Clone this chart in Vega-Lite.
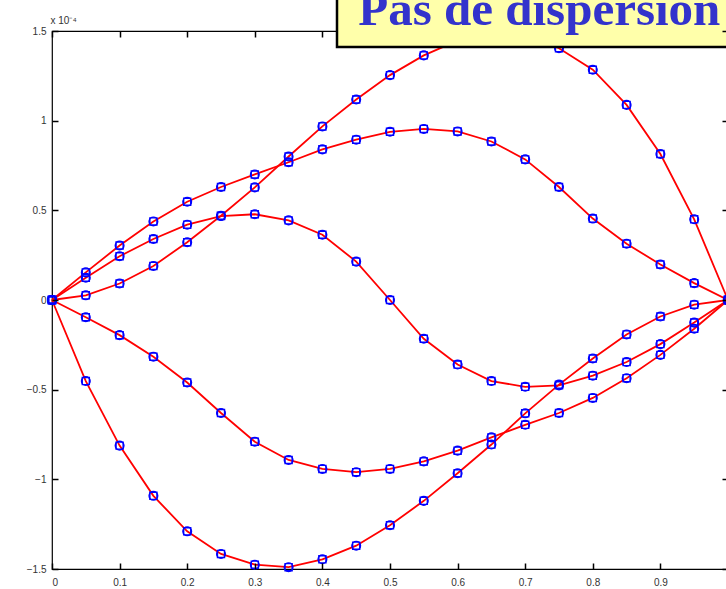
{
  "$schema": "https://vega.github.io/schema/vega-lite/v6.json",
  "width": 676,
  "height": 538,
  "autosize": {"type": "none"},
  "padding": {"left": 52, "top": 31, "right": 0, "bottom": 20},
  "background": "white",
  "config": {
    "view": {"stroke": "black", "strokeWidth": 1.2},
    "font": "Liberation Sans"
  },
  "datasets": {
    "curves": [
      {"curve": "C1", "x": 0, "y": 0}, {"curve": "C1", "x": 0.05, "y": -0.452}, {"curve": "C1", "x": 0.1, "y": -0.812}, {"curve": "C1", "x": 0.15, "y": -1.092}, {"curve": "C1", "x": 0.2, "y": -1.29}, {"curve": "C1", "x": 0.25, "y": -1.416}, {"curve": "C1", "x": 0.3, "y": -1.476}, {"curve": "C1", "x": 0.35, "y": -1.49}, {"curve": "C1", "x": 0.4, "y": -1.446}, {"curve": "C1", "x": 0.45, "y": -1.37}, {"curve": "C1", "x": 0.5, "y": -1.256}, {"curve": "C1", "x": 0.55, "y": -1.12}, {"curve": "C1", "x": 0.6, "y": -0.966}, {"curve": "C1", "x": 0.65, "y": -0.806}, {"curve": "C1", "x": 0.7, "y": -0.632}, {"curve": "C1", "x": 0.75, "y": -0.472}, {"curve": "C1", "x": 0.8, "y": -0.326}, {"curve": "C1", "x": 0.85, "y": -0.192}, {"curve": "C1", "x": 0.9, "y": -0.092}, {"curve": "C1", "x": 0.95, "y": -0.026}, {"curve": "C1", "x": 1, "y": 0},
      {"curve": "C2", "x": 0, "y": 0}, {"curve": "C2", "x": 0.05, "y": 0.026}, {"curve": "C2", "x": 0.1, "y": 0.092}, {"curve": "C2", "x": 0.15, "y": 0.19}, {"curve": "C2", "x": 0.2, "y": 0.322}, {"curve": "C2", "x": 0.25, "y": 0.47}, {"curve": "C2", "x": 0.3, "y": 0.628}, {"curve": "C2", "x": 0.35, "y": 0.8}, {"curve": "C2", "x": 0.4, "y": 0.968}, {"curve": "C2", "x": 0.45, "y": 1.118}, {"curve": "C2", "x": 0.5, "y": 1.254}, {"curve": "C2", "x": 0.55, "y": 1.364}, {"curve": "C2", "x": 0.6, "y": 1.446}, {"curve": "C2", "x": 0.65, "y": 1.49}, {"curve": "C2", "x": 0.7, "y": 1.476}, {"curve": "C2", "x": 0.75, "y": 1.404}, {"curve": "C2", "x": 0.8, "y": 1.284}, {"curve": "C2", "x": 0.85, "y": 1.088}, {"curve": "C2", "x": 0.9, "y": 0.814}, {"curve": "C2", "x": 0.95, "y": 0.45}, {"curve": "C2", "x": 1, "y": 0},
      {"curve": "C3", "x": 0, "y": 0}, {"curve": "C3", "x": 0.05, "y": 0.154}, {"curve": "C3", "x": 0.1, "y": 0.304}, {"curve": "C3", "x": 0.15, "y": 0.438}, {"curve": "C3", "x": 0.2, "y": 0.548}, {"curve": "C3", "x": 0.25, "y": 0.63}, {"curve": "C3", "x": 0.3, "y": 0.7}, {"curve": "C3", "x": 0.35, "y": 0.768}, {"curve": "C3", "x": 0.4, "y": 0.84}, {"curve": "C3", "x": 0.45, "y": 0.894}, {"curve": "C3", "x": 0.5, "y": 0.938}, {"curve": "C3", "x": 0.55, "y": 0.954}, {"curve": "C3", "x": 0.6, "y": 0.94}, {"curve": "C3", "x": 0.65, "y": 0.884}, {"curve": "C3", "x": 0.7, "y": 0.784}, {"curve": "C3", "x": 0.75, "y": 0.63}, {"curve": "C3", "x": 0.8, "y": 0.454}, {"curve": "C3", "x": 0.85, "y": 0.314}, {"curve": "C3", "x": 0.9, "y": 0.198}, {"curve": "C3", "x": 0.95, "y": 0.094}, {"curve": "C3", "x": 1, "y": 0},
      {"curve": "C4", "x": 0, "y": 0}, {"curve": "C4", "x": 0.05, "y": 0.124}, {"curve": "C4", "x": 0.1, "y": 0.244}, {"curve": "C4", "x": 0.15, "y": 0.34}, {"curve": "C4", "x": 0.2, "y": 0.42}, {"curve": "C4", "x": 0.25, "y": 0.468}, {"curve": "C4", "x": 0.3, "y": 0.478}, {"curve": "C4", "x": 0.35, "y": 0.444}, {"curve": "C4", "x": 0.4, "y": 0.364}, {"curve": "C4", "x": 0.45, "y": 0.214}, {"curve": "C4", "x": 0.5, "y": 0}, {"curve": "C4", "x": 0.55, "y": -0.216}, {"curve": "C4", "x": 0.6, "y": -0.36}, {"curve": "C4", "x": 0.65, "y": -0.452}, {"curve": "C4", "x": 0.7, "y": -0.484}, {"curve": "C4", "x": 0.75, "y": -0.476}, {"curve": "C4", "x": 0.8, "y": -0.422}, {"curve": "C4", "x": 0.85, "y": -0.346}, {"curve": "C4", "x": 0.9, "y": -0.246}, {"curve": "C4", "x": 0.95, "y": -0.126}, {"curve": "C4", "x": 1, "y": 0},
      {"curve": "C5", "x": 0, "y": 0}, {"curve": "C5", "x": 0.05, "y": -0.096}, {"curve": "C5", "x": 0.1, "y": -0.196}, {"curve": "C5", "x": 0.15, "y": -0.316}, {"curve": "C5", "x": 0.2, "y": -0.46}, {"curve": "C5", "x": 0.25, "y": -0.63}, {"curve": "C5", "x": 0.3, "y": -0.79}, {"curve": "C5", "x": 0.35, "y": -0.892}, {"curve": "C5", "x": 0.4, "y": -0.942}, {"curve": "C5", "x": 0.45, "y": -0.96}, {"curve": "C5", "x": 0.5, "y": -0.942}, {"curve": "C5", "x": 0.55, "y": -0.9}, {"curve": "C5", "x": 0.6, "y": -0.84}, {"curve": "C5", "x": 0.65, "y": -0.766}, {"curve": "C5", "x": 0.7, "y": -0.696}, {"curve": "C5", "x": 0.75, "y": -0.63}, {"curve": "C5", "x": 0.8, "y": -0.546}, {"curve": "C5", "x": 0.85, "y": -0.436}, {"curve": "C5", "x": 0.9, "y": -0.306}, {"curve": "C5", "x": 0.95, "y": -0.16}, {"curve": "C5", "x": 1, "y": 0}
    ]
  },
  "layer": [
    {
      "data": {"name": "curves"},
      "mark": {"type": "line", "color": "#ff0000", "strokeWidth": 1.8},
      "encoding": {
        "x": {"field": "x", "type": "quantitative", "scale": {"domain": [0, 1], "nice": false},
          "axis": {"orient": "bottom", "values": [0, 0.1, 0.2, 0.3, 0.4, 0.5, 0.6, 0.7, 0.8, 0.9], "format": "~g",
            "domain": false, "grid": false, "ticks": true, "tickColor": "#000000", "tickOpacity": 1, "tickSize": 6, "tickWidth": 1.5, "offset": -6,
            "labelOverlap": false, "labelFont": "Liberation Sans", "labelFontSize": 10, "labelColor": "#333333", "labelPadding": 8, "title": null, "zindex": 1}},
        "y": {"field": "y", "type": "quantitative", "scale": {"domain": [-1.5, 1.5], "nice": false},
          "axis": {"orient": "left", "values": [-1.5, -1, -0.5, 0, 0.5, 1, 1.5], "labelExpr": "datum.value == 0 ? '0' : format(datum.value, '~g')",
            "domain": false, "grid": false, "ticks": true, "tickColor": "#000000", "tickOpacity": 1, "tickSize": 6, "tickWidth": 1.5, "offset": -6,
            "labelOverlap": false, "labelFont": "Liberation Sans", "labelFontSize": 10, "labelColor": "#333333", "labelPadding": 6, "zindex": 1,
            "title": "x 10⁻⁴", "titleAngle": 0, "titleAlign": "left", "titleBaseline": "alphabetic", "titleX": -8, "titleY": -8,
            "titleFont": "Liberation Sans", "titleFontSize": 10, "titleFontWeight": "normal", "titleColor": "#333333"}},
        "detail": {"field": "curve"}
      }
    },
    {
      "data": {"name": "curves"},
      "mark": {"type": "point", "shape": "circle", "filled": false, "color": "#0000ff", "size": 75, "strokeWidth": 1.4, "opacity": 1},
      "encoding": {
        "x": {"field": "x", "type": "quantitative", "scale": {"domain": [0, 1], "nice": false},
          "axis": {"orient": "top", "values": [0, 0.1, 0.2, 0.3, 0.4, 0.5, 0.6, 0.7, 0.8, 0.9, 1], "labels": false, "title": null,
            "domain": false, "grid": false, "ticks": true, "tickColor": "#000000", "tickOpacity": 1, "tickSize": 6, "tickWidth": 1.5, "offset": -6, "zindex": 0}},
        "y": {"field": "y", "type": "quantitative", "scale": {"domain": [-1.5, 1.5], "nice": false},
          "axis": {"orient": "right", "values": [-1.5, -1, -0.5, 0, 0.5, 1, 1.5], "labels": false, "title": null,
            "domain": false, "grid": false, "ticks": true, "tickColor": "#000000", "tickOpacity": 1, "tickSize": 6, "tickWidth": 1.5, "offset": -6, "zindex": 1}}
      }
    },
    {
      "data": {"name": "curves"},
      "mark": {"type": "point", "shape": "square", "filled": false, "color": "#0000ff", "size": 50, "strokeWidth": 1.4, "opacity": 1},
      "encoding": {
        "x": {"field": "x", "type": "quantitative", "scale": {"domain": [0, 1], "nice": false}, "axis": null},
        "y": {"field": "y", "type": "quantitative", "scale": {"domain": [-1.5, 1.5], "nice": false}, "axis": null}
      }
    },
    {
      "data": {"values": [{"label": "Pas de dispersion"}]},
      "mark": {"type": "rect", "fill": "#ffffaa", "stroke": "black", "strokeWidth": 2.5, "clip": false},
      "encoding": {
        "x": {"datum": 0.4216, "type": "quantitative", "axis": null},
        "x2": {"datum": 1.05},
        "y": {"datum": 1.411, "type": "quantitative", "axis": null},
        "y2": {"datum": 1.95}
      }
    },
    {
      "data": {"values": [{"label": "Pas de dispersion"}]},
      "mark": {"type": "text", "align": "left", "baseline": "alphabetic", "font": "Liberation Serif", "fontWeight": "bold", "fontSize": 49, "color": "#3333cc", "clip": false},
      "encoding": {
        "x": {"datum": 0.453, "type": "quantitative", "axis": null},
        "y": {"datum": 1.534, "type": "quantitative", "axis": null},
        "text": {"field": "label"}
      }
    }
  ],
  "resolve": {"axis": {"x": "independent", "y": "independent"}}
}
